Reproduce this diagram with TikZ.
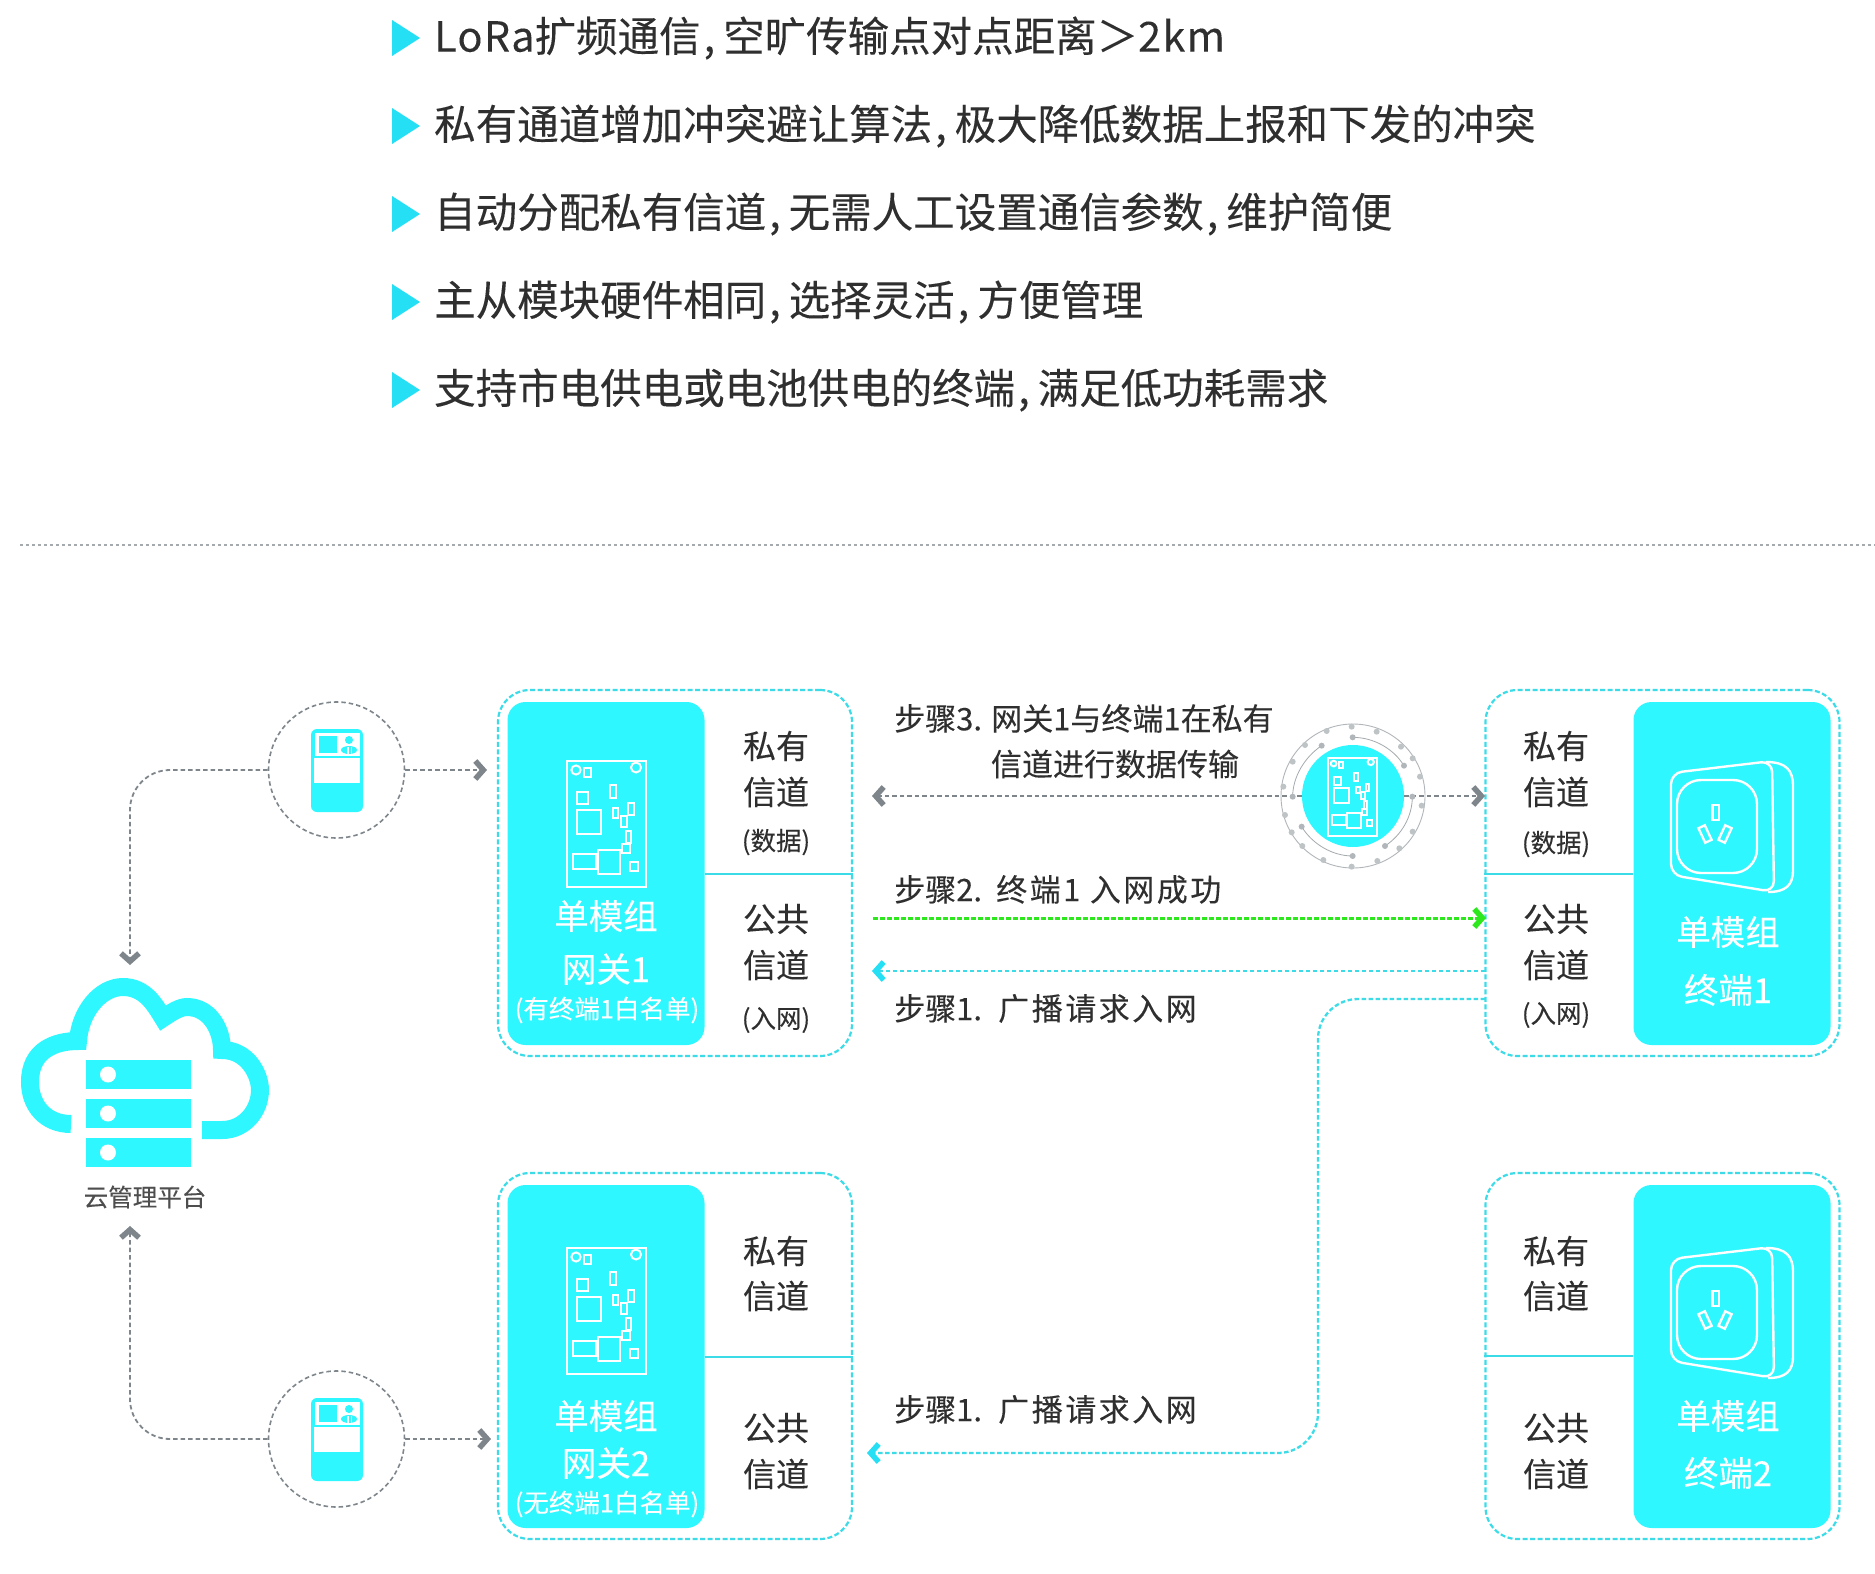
\documentclass[tikz,border=0pt]{standalone}
\usepackage{fontspec}
\setmainfont{Noto Sans CJK SC}[FakeBold=0.12]
\usetikzlibrary{arrows.meta,calc}
\definecolor{cy}{HTML}{2EF7FF}
\definecolor{tri}{HTML}{25DFF5}
\definecolor{dashc}{HTML}{3BDCE8}
\definecolor{gr}{HTML}{7E868C}
\definecolor{tx}{HTML}{2F2F2F}
\definecolor{grn}{HTML}{2EE81E}
\newcommand{\fs}[1]{\fontsize{#1}{#1}\selectfont}
\newcommand{\cmm}{\hspace{3pt},\hspace{8pt}}
\newcommand{\lat}[1]{{\addfontfeatures{LetterSpace=3}#1}}
\newcommand{\wdr}[1]{{\addfontfeatures{LetterSpace=8}#1}}
\tikzset{
 x=1pt,y=-1pt,
 dashbox/.style={draw=dashc,line width=2.2pt,dash pattern=on 5pt off 2.5pt,rounded corners=32pt,inner sep=0,minimum width=354pt,minimum height=366pt},
 cybox/.style={fill=cy,rounded corners=18pt,inner sep=0,minimum width=197pt,minimum height=343pt},
 divider/.style={draw=dashc,line width=2.6pt},
 bullet/.style={fill=tri,draw=none},
 toptext/.style={anchor=west,text=tx,font=\fs{41.5},inner sep=0},
 chan/.style={text=tx,font=\fs{33},inner sep=0},
 chansm/.style={text=tx,font=\fs{25.5},inner sep=0},
 steptext/.style={text=tx,font=\fs{31},inner sep=0},
 wt/.style={text=white,font=\fs{34.5},inner sep=0},
 wtsm/.style={text=white,font=\fs{25.5},inner sep=0},
 graylink/.style={draw=gr,line width=1.8pt,dash pattern=on 4.5pt off 3pt,-{Straight Barb[length=8pt,width=18pt,line width=5.5pt,color=gr]}},
 metercirc/.style={circle,draw=gr,line width=1.6pt,dash pattern=on 4.5pt off 3pt,inner sep=0,minimum size=136pt},
 cylink/.style={draw=dashc,line width=2.3pt,dash pattern=on 4.5pt off 2.5pt,-{Straight Barb[length=8pt,width=18pt,line width=5.5pt,color=tri]}},
 greenlink/.style={draw=grn,line width=3pt,dash pattern=on 4.5pt off 2.5pt,-{Straight Barb[length=8pt,width=18pt,line width=5.5pt,color=grn]}},
}
\newcommand{\pcb}[4]{% x y scale lw
\begin{scope}[shift={(#1,#2)},x=#3pt,y=-#3pt,draw=white,line width=#4pt]
\draw (0,0) rectangle (79,126);
\draw (9,9) circle[radius=4.6*#3pt] (69,6.5) circle[radius=5*#3pt];
\draw (17,7) rectangle (23.5,16);
\draw (10,31) rectangle (21,43);
\draw (42.5,24) rectangle (48.5,36.5);
\draw (9.5,49) rectangle (34,73);
\draw (45.5,46.5) rectangle (51,57);
\draw (60.5,41.5) rectangle (66.5,54);
\draw (54,55) rectangle (59.5,66);
\draw (58.5,69.5) rectangle (63.5,82);
\draw (55,83) rectangle (62.5,91.5);
\draw (6,92.5) rectangle (28.5,108);
\draw (30.5,89) rectangle (52.5,113);
\draw (62.5,100.5) rectangle (70.5,109.5);
\end{scope}}
\newcommand{\socket}[1]{%
\begin{scope}[shift={(0,#1)},draw=white,line width=2.4pt]
\draw[rounded corners=11pt] (1671,773) -- (1772,761) -- (1774,892) -- (1671,875) -- cycle;
\draw (1766,762) .. controls (1786,762) and (1793,770) .. (1793,786) -- (1793,870) .. controls (1793,885) and (1786,892) .. (1768,892);
\draw[rounded corners=24pt] (1677,780) rectangle (1757,873);
\draw (1712.5,805) rectangle (1719,820);
\draw[rotate around={25:(1705,834)}] (1701.5,826) rectangle (1708.5,842);
\draw[rotate around={-25:(1725,834)}] (1721.5,826) rectangle (1728.5,842);
\end{scope}}
\newcommand{\meter}[1]{%
\begin{scope}[shift={(0,#1)}]
\fill[cy,rounded corners=6pt] (311,729) rectangle (363,812);
\fill[white] (315,733) rectangle (360,755.5);
\fill[white] (314,758) rectangle (360,783);
\fill[cy] (319,736) rectangle (337,753);
\fill[cy] (349,740) circle[radius=4pt];
\fill[cy] (349,750) ellipse[x radius=8pt,y radius=4pt];
\fill[white] (346.5,746.5) rectangle (348.5,753.5);
\fill[white] (350.5,746.5) rectangle (352,753.5);
\end{scope}}
\begin{document}
\begin{tikzpicture}
\useasboundingbox (0,0) rectangle (1875,1574);
\fill[white] (0,0) rectangle (1875,1574);
% bullets
\foreach \y in {38,126,214,302,390}{
  \fill[bullet] (392,\y-18) -- (420,\y) -- (392,\y+18) -- cycle;}
\node[toptext] (t1) at (434,38) {\lat{LoRa}扩频通信\cmm 空旷传输点对点距离＞\lat{2km}};
\node[toptext] (t2) at (434,126) {私有通道增加冲突避让算法\cmm 极大降低数据上报和下发的冲突};
\node[toptext] (t3) at (434,214) {自动分配私有信道\cmm 无需人工设置通信参数\cmm 维护简便};
\node[toptext] (t4) at (434,302) {主从模块硬件相同\cmm 选择灵活\cmm 方便管理};
\node[toptext] (t5) at (434,390) {支持市电供电或电池供电的终端\cmm 满足低功耗需求};
\draw[gr!70,line width=1.2pt,dash pattern=on 3pt off 3pt] (20,545) -- (1875,545);
% boxes
\node[dashbox] (gw1) at (675,873) {};
\node[dashbox] (gw2) at (675,1356) {};
\node[dashbox] (tm1) at (1662.5,873) {};
\node[dashbox] (tm2) at (1662.5,1356) {};
\node[cybox] (gc1) at (606,873.5) {};
\node[cybox] (gc2) at (606,1356.5) {};
\node[cybox] (tc1) at (1732,873.5) {};
\node[cybox] (tc2) at (1732,1356.5) {};
\draw[divider] (gc1.east |- 0,874) -- (gw1.east |- 0,874);
\draw[divider] (gc2.east |- 0,1357) -- (gw2.east |- 0,1357);
\draw[divider] (tm1.west |- 0,874) -- (tc1.west |- 0,874);
\draw[divider] (tm2.west |- 0,1356) -- (tc2.west |- 0,1356);
% icons
\pcb{567}{761}{1}{2}
\pcb{567}{1248}{1}{2}
\socket{0}
\socket{486}
% gateway text
\node[wt] (a1) at (606,916) {单模组};
\node[wt] (a2) at (606,969) {网关1};
\node[wtsm] (a3) at (607,1010) {(有终端1白名单)};
\node[wt] (b1) at (606,1416) {单模组};
\node[wt] (b2) at (606,1463) {网关2};
\node[wtsm] (b3) at (607,1504) {(无终端1白名单)};
\node[wt] (c1) at (1728,932) {单模组};
\node[wt] (c2) at (1728,990) {终端1};
\node[wt] (d1) at (1728,1416) {单模组};
\node[wt] (d2) at (1728,1473) {终端2};
% channel text
\node[chan] (e1) at (776,746) {私有};
\node[chan] (e2) at (776,792) {信道};
\node[chansm] (e3) at (776,842) {(数据)};
\node[chan] (e4) at (776,919) {公共};
\node[chan] (e5) at (776,965) {信道};
\node[chansm] (e6) at (776,1020) {(入网)};
\node[chan] (f1) at (1556,746) {私有};
\node[chan] (f2) at (1556,792) {信道};
\node[chansm] (f3) at (1556,844) {(数据)};
\node[chan] (f4) at (1556,919) {公共};
\node[chan] (f5) at (1556,965) {信道};
\node[chansm] (f6) at (1556,1015) {(入网)};
\node[chan] (g1) at (776,1251) {私有};
\node[chan] (g2) at (776,1296) {信道};
\node[chan] (g4) at (776,1428) {公共};
\node[chan] (g5) at (776,1474) {信道};
\node[chan] (h1) at (1556,1251) {私有};
\node[chan] (h2) at (1556,1296) {信道};
\node[chan] (h4) at (1556,1428) {公共};
\node[chan] (h5) at (1556,1474) {信道};
% step text
\node[steptext,anchor=west] (s3a) at (894,718.5) {步骤3. 网关1与终端1在私有};
\node[steptext] (s3b) at (1115,764) {信道进行数据传输};
\node[steptext,anchor=west] (s2) at (894,889.5) {步骤2.\hspace{5pt} \wdr{终端1 入网成功}};
\node[steptext,anchor=west] (s1) at (894,1008.5) {步骤1.\hspace{7pt} \wdr{广播请求入网}};
\node[steptext,anchor=west] (s1b) at (894,1409.5) {步骤1.\hspace{7pt} \wdr{广播请求入网}};
% cloud
\draw[cy,line width=18pt] (71,1124) .. controls (45,1124) and (30,1105) .. (30,1082)
  .. controls (30,1050) and (55,1041) .. (78,1041)
  .. controls (80,1012) and (100,987) .. (123,987)
  .. controls (145,987) and (155,1005) .. (163,1018)
  .. controls (172,1012) and (180,1007) .. (187,1007)
  .. controls (210,1007) and (222,1030) .. (222,1050)
  .. controls (248,1050) and (260,1075) .. (260,1090)
  .. controls (260,1110) and (245,1130) .. (222,1130)
  -- (202,1130);
\foreach \yy in {1060,1099,1138}{
 \fill[cy] (86,\yy) rectangle (191,\yy+29);
 \fill[white] (108,\yy+14.5) ellipse[x radius=8pt,y radius=8pt];
}
\coordinate (cloudtop) at (130,965);
\coordinate (cloudbot) at (130,1226);
\node[text=tx!85,font=\fs{24.5},inner sep=0] (cl) at (145,1197) {云管理平台};
% meters
\node[metercirc] (m1) at (336.5,770) {};
\node[metercirc] (m2) at (336.5,1439) {};
\meter{0}
\meter{669}
\draw[graylink,rounded corners=40pt] (m1.west) -- (130,770) -- (cloudtop);
\draw[graylink,rounded corners=40pt] (m2.west) -- (130,1439) -- (cloudbot);
\coordinate (m1r) at (487,770);
\coordinate (m2r) at (491,1439);
\draw[graylink] (m1.east) -- (m1r);
\draw[graylink] (m2.east) -- (m2r);
% relay
\node[circle,fill=cy,inner sep=0,minimum size=102pt] (relay) at (1353,796) {};
\coordinate (gwL) at (872,796);
\coordinate (tmL) at (1485,796);
\draw[graylink] (relay.west) -- (gwL);
\draw[graylink] (relay.east) -- (tmL);
\draw[gr!60,line width=.9pt] (1353,796) circle[radius=72pt];
\begin{scope}[shift={(1270,715)},x=.3333pt,y=-.3333pt]
\foreach \p in {(245,35),(170,48),(105,90),(68,140),(40,215),(45,300),(65,352),(97,393),(160,435),(245,455),(322,438),(388,400),(428,350),(455,272),(450,185),(428,130),(393,95),(320,50)}{\fill[gr!50] \p circle[radius=3pt];}
\draw[gr!70,line width=.8pt] (248,67) .. controls (310,67) and (370,100) .. (402,152);
\draw[gr!70,line width=.8pt] (68,245) .. controls (68,185) and (105,125) .. (155,92);
\draw[gr!70,line width=.8pt] (427,245) .. controls (427,305) and (395,360) .. (345,393);
\draw[gr!70,line width=.8pt] (248,423) .. controls (185,423) and (125,385) .. (95,335);
\foreach \p in {(68,245),(155,92),(248,67),(402,152),(427,245),(345,393),(248,423),(95,335)}{\fill[gr!60] \p circle[radius=3pt];}
\end{scope}
\pcb{1328}{758}{.62}{2}
% links
\coordinate (g2s) at (873,918);
\coordinate (g2e) at (1486,918);
\draw[greenlink] (g2s) -- (g2e);
\coordinate (b1s) at (1485,971);
\coordinate (b1e) at (872,971);
\draw[cylink] (b1s) -- (b1e);
\coordinate (c1s) at (1485,999);
\coordinate (c1e) at (867,1453);
\draw[cylink,rounded corners=40pt] (c1s) -- (1318,999) -- (1318,1453) -- (c1e);
\end{tikzpicture}
\end{document}
